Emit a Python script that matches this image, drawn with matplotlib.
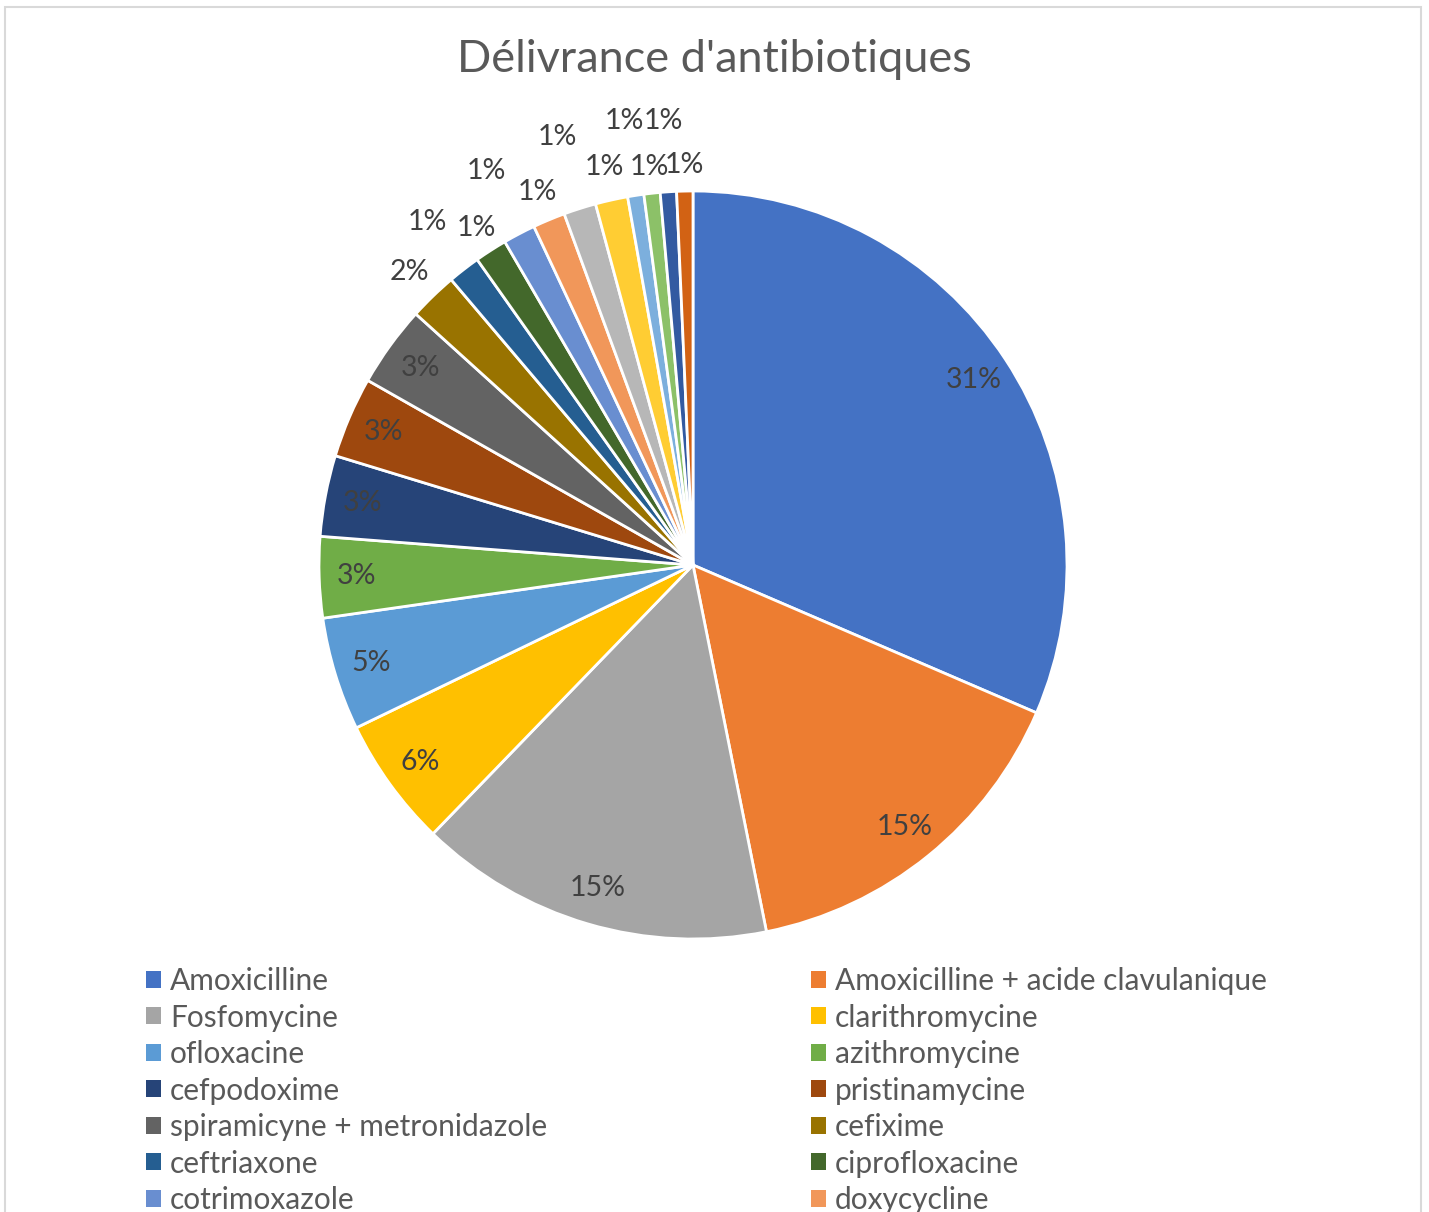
import math
import matplotlib
matplotlib.use("Agg")
import matplotlib.pyplot as plt
from matplotlib.patches import Rectangle

plt.rcParams['font.family'] = ['Lato', 'DejaVu Sans']

# Data (counts; total 143)
names = ["Amoxicilline", "Amoxicilline + acide clavulanique", "Fosfomycine",
         "clarithromycine", "ofloxacine", "azithromycine", "cefpodoxime",
         "pristinamycine", "spiramicyne + metronidazole", "cefixime",
         "ceftriaxone", "ciprofloxacine", "cotrimoxazole", "doxycycline"]
counts = [45, 22, 22, 8, 7, 5, 5, 5, 5, 3, 2, 2, 2, 2, 2, 2, 1, 1, 1, 1]

colors = ['#4472C4', '#ED7D31', '#A5A5A5', '#FFC000', '#5B9BD5', '#70AD47',
          '#264478', '#9E480E', '#636363', '#997300', '#255E91', '#43682B',
          '#698ED0', '#F1975A', '#B7B7B7', '#FFCD33', '#7CAFDD', '#8CC168',
          '#335AA1', '#D26214']

# label distance from centre (in pie radii): inside for big slices, staggered outside for small ones
label_r = [0.9] * 9 + [1.09, 1.16, 1.07, 1.19, 1.08, 1.2, 1.09, 1.2, 1.07, 1.19, 1.07]

fig = plt.figure(figsize=(14.29, 12.12), dpi=100)

# pie axes: centre ~ (693, 565) px, radius ~ 373 px
W, H = 1429, 1212
cx, cy, R = 693, 565, 374
half = R * 1.25
ax = fig.add_axes([(cx - half) / W, (H - cy - half) / H, 2 * half / W, 2 * half / H])

wedges, _ = ax.pie(counts, colors=colors, startangle=90, counterclock=False,
                   radius=1, wedgeprops=dict(edgecolor='white', linewidth=2))
ax.set_xlim(-1.25, 1.25)
ax.set_ylim(-1.25, 1.25)
ax.set_aspect('equal')
ax.axis('off')

total = sum(counts)
for w, c, r in zip(wedges, counts, label_r):
    mid = math.radians((w.theta1 + w.theta2) / 2)
    ax.text(r * math.cos(mid), r * math.sin(mid), f"{100 * c / total:.0f}%",
            ha='center', va='center', fontsize=20.5, color='#404040')

# Title
fig.text(0.5, 1 - 60 / H, "Délivrance d'antibiotiques", ha='center', va='center',
         fontsize=32.5, color='#595959')

# Legend: Excel fills row by row, matplotlib column by column -> reorder
n = len(names)
order = list(range(0, n, 2)) + list(range(1, n, 2))
handles = [Rectangle((0, 0), 1, 1, facecolor=colors[i]) for i in order]
labels = [names[i] for i in order]
fig.legend(handles, labels, ncol=2, loc='upper left',
           bbox_to_anchor=(146 / W, 1 - 967 / H), frameon=False,
           fontsize=21.5, labelcolor='#595959', handlelength=0.5,
           handleheight=0.5, handletextpad=0.3, labelspacing=0.285,
           columnspacing=8.85, borderpad=0, borderaxespad=0)

# Chart border
fig.add_artist(Rectangle((5 / W, -0.01), (1421 - 5) / W, (H - 7) / H + 0.01,
                         transform=fig.transFigure, fill=False,
                         edgecolor='#D9D9D9', linewidth=1.5))

fig.savefig("out.png", dpi=100)
